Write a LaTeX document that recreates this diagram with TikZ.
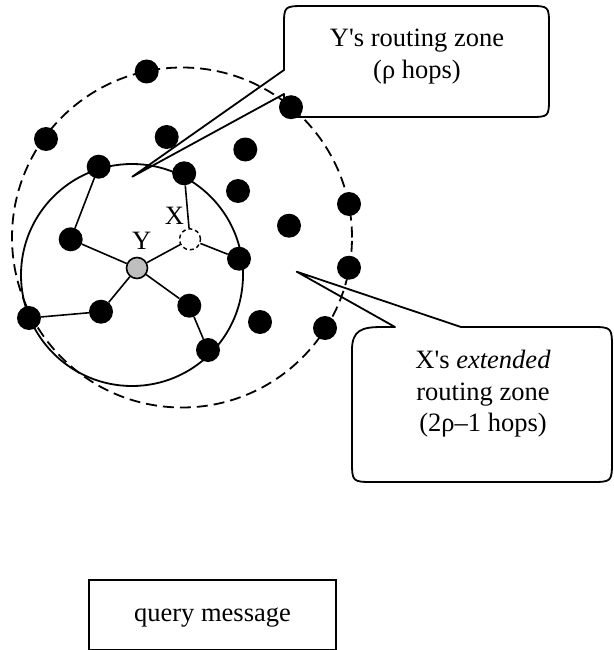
\documentclass[tikz,border=0pt]{standalone}
\usepackage{fontspec}
\setmainfont{Liberation Serif}[Ligatures=TeXOff]
\begin{document}
\begin{tikzpicture}[x=1pt,y=-1pt,
  txt/.style={font=\fontsize{26.5}{31.7}\selectfont, inner sep=0pt},
  dot/.style={circle,fill=black,inner sep=0pt,minimum size=24pt},
  ynode/.style={circle,draw,fill=black!25,line width=1.6pt,inner sep=0pt,minimum size=21pt},
  xnode/.style={circle,draw,fill=white,line width=1.4pt,dash pattern=on 4pt off 3pt,inner sep=0pt,minimum size=21pt},
  link/.style={line width=1.6pt},
  zone/.style={line width=1.8pt},
  zonedash/.style={line width=1.8pt,dash pattern=on 11pt off 6pt},
  callout/.style={line width=1.8pt,line join=round},
]
\useasboundingbox (0,0) rectangle (613,650);

% routing zones
\draw[zonedash] (182,237.5) circle[radius=170pt];
\draw[zone] (132,275) circle[radius=111pt];

% callout for Y's zone
\coordinate (tipY) at (132.3,176.7);
\draw[callout] (284,70) -- (tipY) -- (284,94) .. controls (284,117) .. (306,117)
  -- (529,117) .. controls (549,117) .. (549,97) -- (549,26)
  .. controls (549,6) .. (529,6) -- (306,6) .. controls (284,6) .. (284,26) -- cycle;
\node[txt,align=center] (ytext) at (417,56.4) {Y's routing zone\\(ρ hops)};

% callout for X's extended zone
\coordinate (tipX) at (296.7,271.7);
\draw[callout] (395,327) -- (tipX) -- (461,327) -- (590,327)
  .. controls (612,327) .. (612,349) -- (612,460) .. controls (612,482) .. (590,482)
  -- (374,482) .. controls (352,482) .. (352,460) -- (352,350)
  .. controls (352,330) and (362,327) .. (382,327) -- cycle;
\node[txt,align=center] (xtext) at (483,393.8) {X's \textit{extended}\\routing zone\\(2ρ–1 hops)};

% network nodes
\node[dot] (a1) at (146.7,71.5) {};
\node[dot] (a2) at (46,139) {};
\node[dot] (a3) at (166.7,137) {};
\node[dot] (a4) at (291,107.2) {};
\node[dot] (a5) at (245.3,149.5) {};
\node[dot] (a6) at (238,191) {};
\node[dot] (a7) at (184.2,173.3) {};
\node[dot] (a8) at (98.7,166.7) {};
\node[dot] (a9) at (70.7,239.3) {};
\node[ynode] (Y) at (137,268) {};
\node[xnode] (X) at (190,239.3) {};
\node[dot] (a10) at (239,258.7) {};
\node[dot] (a11) at (289,225.7) {};
\node[dot] (a12) at (349,204) {};
\node[dot] (a13) at (349,267.7) {};
\node[dot] (a14) at (29,318) {};
\node[dot] (a15) at (101,311.7) {};
\node[dot] (a16) at (189.3,305.7) {};
\node[dot] (a17) at (208,350) {};
\node[dot] (a18) at (260,322) {};
\node[dot] (a19) at (325,328) {};

% links inside Y's zone
\draw[link] (a8) -- (a9);
\draw[link] (a9) -- (Y);
\draw[link] (Y) -- (X);
\draw[link] (X) -- (a7);
\draw[link] (X) -- (a10);
\draw[link] (Y) -- (a15);
\draw[link] (a15) -- (a14);
\draw[link] (Y) -- (a16);
\draw[link] (a16) -- (a17);

% node labels
\node[txt,anchor=base] (ylabel) at (141.7,249.3) {Y};
\node[txt,anchor=base] (xlabel) at (174.5,224) {X};

% query message box
\draw[zone] (89,650) -- (89,580) -- (336,580) -- (336,650) -- cycle;
\node[txt,anchor=base] (query) at (212.5,621) {query message};
\end{tikzpicture}
\end{document}
